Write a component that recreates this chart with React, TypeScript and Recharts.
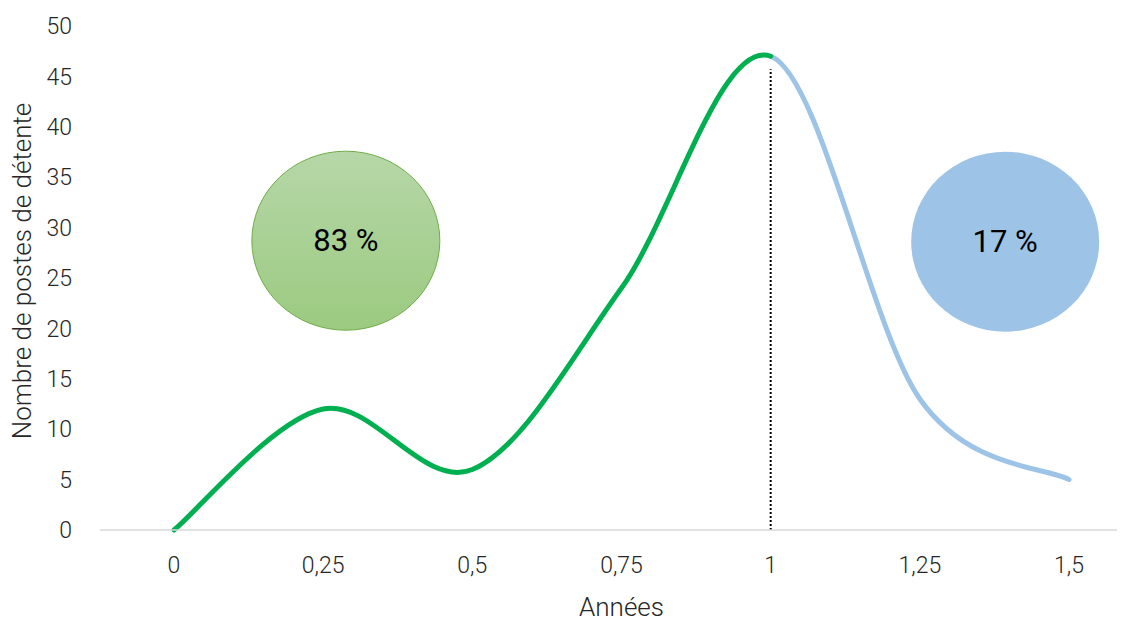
import React from 'react';
import { LineChart, Line, XAxis, YAxis, ReferenceLine, ReferenceDot } from 'recharts';

const years = [0, 0.25, 0.5, 0.75, 1, 1.25, 1.5];
const postes = [0, 12, 6, 24, 47, 13, 5];
const xTicks = [0, 0.25, 0.5, 0.75, 1, 1.25, 1.5];
const yTicks = [0, 5, 10, 15, 20, 25, 30, 35, 40, 45, 50];
const shareLabels = ['83 %', '17 %'];
const shareX = [0.288, 1.393];
const shareY = [28.7, 28.6];
const splitYear = 1;
const markerTop = 45.7;

const data = years.map((x, i) => ({ x, v: postes[i] }));
const splitIdx = years.indexOf(splitYear);

function segmentCurve(fromIdx: number, toIdx: number) {
  return (context: any) => {
    let pts: number[][] = [];
    return {
      areaStart() {},
      areaEnd() {},
      lineStart() {
        pts = [];
      },
      point(x: number, y: number) {
        pts.push([+x, +y]);
      },
      lineEnd() {
        const n = pts.length;
        if (n < 2) return;
        const end = Math.min(toIdx, n - 1);
        context.moveTo(pts[fromIdx][0], pts[fromIdx][1]);
        for (let i = fromIdx; i < end; i++) {
          const p0 = pts[Math.max(i - 1, 0)];
          const p1 = pts[i];
          const p2 = pts[i + 1];
          const p3 = pts[Math.min(i + 2, n - 1)];
          context.bezierCurveTo(
            p1[0] + (p2[0] - p0[0]) / 6,
            p1[1] + (p2[1] - p0[1]) / 6,
            p2[0] - (p3[0] - p1[0]) / 6,
            p2[1] - (p3[1] - p1[1]) / 6,
            p2[0],
            p2[1]
          );
        }
      },
    };
  };
}

const greenCurve = segmentCurve(0, splitIdx);
const blueCurve = segmentCurve(splitIdx, years.length - 1);

const FONT = 'Roboto, "Noto Sans", sans-serif';
const fmt = (v: number) => String(v).replace('.', ',');

export default function App() {
  return (
    <div style={{ position: 'absolute', left: 0, top: 0, background: '#fff' }}>
      <LineChart
        width={1131}
        height={621}
        data={data}
        margin={{ top: 26, right: 14, bottom: 0, left: 0 }}
      >
        <defs>
          <linearGradient id="greenFill" x1="0" y1="0" x2="0" y2="1">
            <stop offset="0%" stopColor="#b6d7a8" />
            <stop offset="100%" stopColor="#9bca80" />
          </linearGradient>
        </defs>
        <XAxis
          dataKey="x"
          type="number"
          domain={[-0.124, 1.5804]}
          allowDataOverflow
          ticks={xTicks}
          tickFormatter={fmt}
          height={91}
          tickLine={false}
          tickSize={0}
          tickMargin={27}
          axisLine={{ stroke: '#d9d9d9', strokeWidth: 1.5 }}
          tick={{ fill: '#262626', fontSize: 23, fontFamily: FONT, fontWeight: 300 }}
          label={{
            value: 'Années',
            position: 'insideBottom',
            offset: 5,
            dx: 13,
            fill: '#262626',
            fontSize: 26,
            fontFamily: FONT,
            fontWeight: 300,
          }}
        />
        <YAxis
          type="number"
          domain={[0, 50]}
          ticks={yTicks}
          width={100}
          tickLine={false}
          axisLine={false}
          tickSize={0}
          tickMargin={28}
          tick={{ fill: '#262626', fontSize: 23, fontFamily: FONT, fontWeight: 300 }}
          label={{
            content: () => (
              <text
                x={22}
                y={271}
                transform="rotate(-90, 22, 271)"
                textAnchor="middle"
                dominantBaseline="central"
                fill="#262626"
                fontSize={26}
                fontFamily={FONT}
                fontWeight={300}
              >
                Nombre de postes de détente
              </text>
            ),
          }}
        />
        <ReferenceLine
          segment={[
            { x: splitYear, y: 0 },
            { x: splitYear, y: markerTop },
          ]}
          stroke="#000"
          strokeWidth={2}
          strokeDasharray="2 2"
        />
        <ReferenceDot
          x={shareX[0]}
          y={shareY[0]}
          r={94}
          shape={(p: any) => (
            <g>
              <ellipse cx={p.cx} cy={p.cy} rx={94} ry={89.5} fill="url(#greenFill)" stroke="#70ad47" strokeWidth={1} />
              <text x={p.cx} y={p.cy} textAnchor="middle" dominantBaseline="central" fontSize={31} fontFamily={FONT} fill="#000">
                {shareLabels[0]}
              </text>
            </g>
          )}
        />
        <ReferenceDot
          x={shareX[1]}
          y={shareY[1]}
          r={94}
          shape={(p: any) => (
            <g>
              <ellipse cx={p.cx} cy={p.cy} rx={94} ry={90} fill="#9dc3e6" />
              <text x={p.cx} y={p.cy} textAnchor="middle" dominantBaseline="central" fontSize={31} fontFamily={FONT} fill="#000">
                {shareLabels[1]}
              </text>
            </g>
          )}
        />
        <Line
          dataKey="v"
          type={blueCurve as any}
          stroke="#9dc3e6"
          strokeWidth={5}
          strokeLinecap="round"
          dot={false}
          activeDot={false}
          isAnimationActive={false}
        />
        <Line
          dataKey="v"
          type={greenCurve as any}
          stroke="#00b050"
          strokeWidth={5}
          strokeLinecap="round"
          dot={false}
          activeDot={false}
          isAnimationActive={false}
        />
      </LineChart>
    </div>
  );
}
